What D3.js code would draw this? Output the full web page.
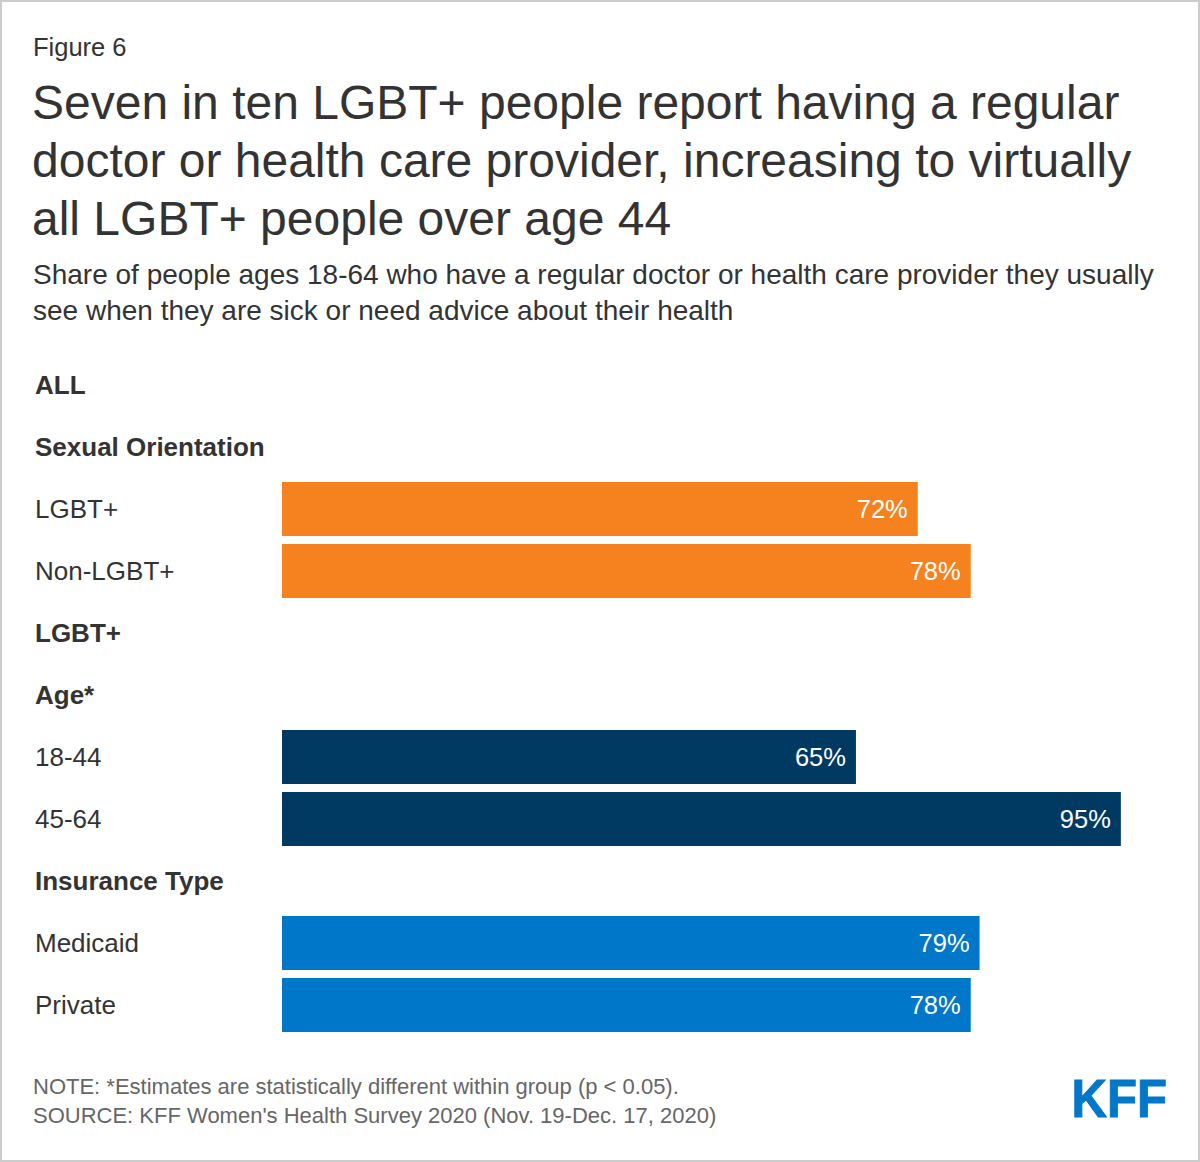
<!DOCTYPE html>
<html>
<head>
<meta charset="utf-8">
<script src="https://cdn.jsdelivr.net/npm/d3@7"></script>
<style>
body { margin:0; background:#fff; }
svg text { font-family: "Liberation Sans", Arial, sans-serif; }
</style>
</head>
<body>
<svg id="chart"></svg>
<script>
// rows in display order; headers have no value
var rowLabels = ["ALL", "Sexual Orientation", "LGBT+", "Non-LGBT+", "LGBT+", "Age*", "18-44", "45-64", "Insurance Type", "Medicaid", "Private"];
var rowKinds  = ["head", "head", "bar", "bar", "head", "head", "bar", "bar", "head", "bar", "bar"];
var rowValues = [null, null, 72, 78, null, null, 65, 95, null, 79, 78];
var rowGroups = [null, null, "orient", "orient", null, null, "age", "age", null, "ins", "ins"];

var groupColors = {orient:"#F5821F", age:"#003A63", ins:"#0077C8"};

var titleLines = ["Seven in ten LGBT+ people report having a regular",
                  "doctor or health care provider, increasing to virtually",
                  "all LGBT+ people over age 44"];
var subtitleLines = ["Share of people ages 18-64 who have a regular doctor or health care provider they usually",
                     "see when they are sick or need advice about their health"];
var noteLines = ["NOTE: *Estimates are statistically different within group (p < 0.05).",
                 "SOURCE: KFF Women's Health Survey 2020 (Nov. 19-Dec. 17, 2020)"];

var screen = {width:1200, height:1162};
var graph = {left:282, right:1165, top:354, rowH:62};

var svg = d3.select("#chart")
    .attr("width", screen.width)
    .attr("height", screen.height);

svg.append("rect")
    .attr("x", 1).attr("y", 1)
    .attr("width", screen.width-2).attr("height", screen.height-2)
    .attr("fill", "#fff")
    .attr("stroke", "#cccccc")
    .attr("stroke-width", 2);

svg.append("text")
    .attr("x", 33).attr("y", 56)
    .attr("font-size", 25.5)
    .attr("fill", "#333")
    .text("Figure 6");

svg.append("g").selectAll("text")
    .data(titleLines)
    .enter().append("text")
    .attr("x", 32)
    .attr("y", function(d,i){ return 119 + i*58; })
    .attr("font-size", 48)
    .attr("fill", "#333")
    .text(function(d){ return d; });

svg.append("g").selectAll("text")
    .data(subtitleLines)
    .enter().append("text")
    .attr("x", 33)
    .attr("y", function(d,i){ return 284 + i*36; })
    .attr("font-size", 28)
    .attr("fill", "#333")
    .text(function(d){ return d; });

//scales
var x = d3.scaleLinear()
    .domain([0,100])
    .range([graph.left, graph.right]);

var y = d3.scaleBand()
    .domain(d3.range(rowLabels.length))
    .range([graph.top, graph.top + graph.rowH*rowLabels.length])
    .paddingInner(8/62)
    .paddingOuter(4/62);

var rows = svg.append("g")
    .classed("rows", true)
    .selectAll("g")
    .data(rowLabels)
    .enter().append("g");

rows.append("text")
    .attr("x", 35)
    .attr("y", function(d,i){ return y(i) + y.bandwidth()/2 + 9; })
    .attr("font-size", 26)
    .attr("font-weight", function(d,i){ return rowKinds[i]=="head" ? "bold" : "normal"; })
    .attr("fill", "#333")
    .text(function(d){ return d; });

// bars and value labels
rows.each(function(d,i){
    if (rowValues[i] == null) return;
    var g = d3.select(this);
    g.append("rect")
        .attr("x", x(0))
        .attr("y", y(i))
        .attr("height", y.bandwidth())
        .attr("width", x(rowValues[i]) - x(0))
        .attr("fill", groupColors[rowGroups[i]]);
    g.append("text")
        .attr("x", x(rowValues[i]) - 10)
        .attr("y", y(i) + y.bandwidth()/2 + 9)
        .attr("text-anchor", "end")
        .attr("font-size", 25.5)
        .attr("fill", "#fff")
        .text(rowValues[i] + "%");
});

svg.append("g").selectAll("text")
    .data(noteLines)
    .enter().append("text")
    .attr("x", 33)
    .attr("y", function(d,i){ return 1094 + i*29; })
    .attr("font-size", 22)
    .attr("fill", "#666")
    .text(function(d){ return d; });

// logo, squeezed a little to look condensed
svg.append("g")
    .attr("transform", "translate(1167,1117) scale(0.91,1)")
    .append("text")
    .attr("text-anchor", "end")
    .attr("font-weight", "bold")
    .attr("font-size", 54)
    .attr("fill", "#0077C8")
    .attr("stroke", "#0077C8")
    .attr("stroke-width", 1)
    .text("KFF");
</script>
</body>
</html>
